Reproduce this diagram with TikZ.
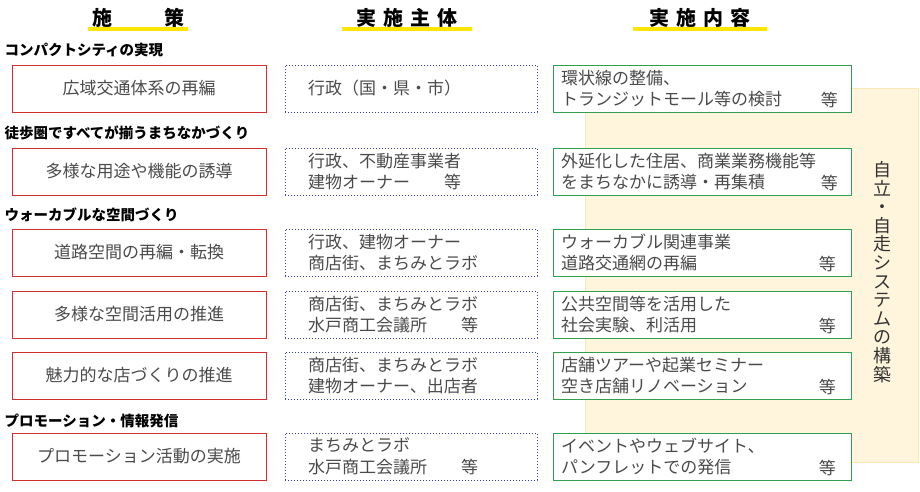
\documentclass[tikz,border=0pt]{standalone}
\usepackage{fontspec}
\setmainfont{Noto Sans CJK JP}
\usetikzlibrary{positioning}
\definecolor{txtgray}{HTML}{4A4A4A}
\definecolor{polred}{HTML}{D03030}
\definecolor{actblue}{HTML}{3040C0}
\definecolor{contgreen}{HTML}{30A050}
\definecolor{panel}{HTML}{FFF5DC}
\definecolor{panelline}{HTML}{FBE7B0}
\definecolor{hdryellow}{HTML}{FFE600}
\begin{document}
\begin{tikzpicture}
    [
    x=1pt, y=-1pt,
    basic/.style={text=txtgray, font=\fontsize{17}{21.5}\selectfont},
    pol/.style={basic, draw=polred, line width=1pt, minimum width=254pt, minimum height=47pt, inner sep=0pt},
    act/.style={basic, draw=actblue, dotted, line width=1pt, minimum width=252pt, minimum height=47pt, inner sep=0pt},
    cont/.style={draw=contgreen, line width=1pt, minimum width=298pt, minimum height=47pt, inner sep=0pt},
    txt/.style={basic, align=left, anchor=west},
    etc/.style={basic, anchor=east},
    hdr/.style={font=\fontsize{20}{22}\selectfont\bfseries},
    sec/.style={anchor=west, font=\fontsize{14.5}{16}\selectfont\bfseries}
    ]
    \useasboundingbox (0,0) rectangle (920,491);

    % Fond du panneau
    \node [fill=panel, draw=panelline, line width=1pt, minimum width=333pt, minimum height=374pt,
           inner sep=0pt] (panel) at (751.5,275) {};
    \node [font=\fontsize{18}{18.6}\selectfont, align=center, text=black!80] (vert) at (882,272)
        {自\\立\\・\\自\\走\\シ\\ス\\テ\\ム\\の\\構\\築};

    % Titres
    \fill [hdryellow] (88,27) rectangle (188,31);
    \fill [hdryellow] (342,27) rectangle (472,31);
    \fill [hdryellow] (633,27) rectangle (767,31);
    \node [hdr] (h1) at (138,18) {施\hspace{2.6em}策};
    \node [hdr] (h2) at (407,18) {実\hspace{0.35em}施\hspace{0.35em}主\hspace{0.35em}体};
    \node [hdr] (h3) at (700,18) {実\hspace{0.35em}施\hspace{0.35em}内\hspace{0.35em}容};

    % Sections
    \node [sec] (s1) at (1,50) {コンパクトシティの実現};
    \node [sec] (s2) at (1,133) {徒歩圏ですべてが揃うまちなかづくり};
    \node [sec] (s3) at (1,215) {ウォーカブルな空間づくり};
    \node [sec] (s4) at (1,421) {プロモーション・情報発信};

    %施策
    \node [pol] (p1) at (139,88.5) {広域交通体系の再編};
    \node [pol] (p2) at (139,171.5) {多様な用途や機能の誘導};
    \node [pol] (p3) at (139,252.5) {道路空間の再編・転換};
    \node [pol] (p4) at (139,314.5) {多様な空間活用の推進};
    \node [pol] (p5) at (139,375.5) {魅力的な店づくりの推進};
    \node [pol] (p6) at (139,456.5) {プロモーション活動の実施};

    % 実施主体
    \node [act] (a1) at (411,88.5) {};
    \node [act] (a2) at (411,171.5) {};
    \node [act] (a3) at (411,252.5) {};
    \node [act] (a4) at (411,314.5) {};
    \node [act] (a5) at (411,375.5) {};
    \node [act] (a6) at (411,456.5) {};
    \node [txt, right=20pt of a1.west] (ta1) {行政（国・県・市）};
    \node [txt, right=20pt of a2.west] (ta2) {行政、不動産事業者\\建物オーナー\hspace{2em}等};
    \node [txt, right=20pt of a3.west] (ta3) {行政、建物オーナー\\商店街、まちみとラボ};
    \node [txt, right=20pt of a4.west] (ta4) {商店街、まちみとラボ\\水戸商工会議所\hspace{2em}等};
    \node [txt, right=20pt of a5.west] (ta5) {商店街、まちみとラボ\\建物オーナー、出店者};
    \node [txt, right=20pt of a6.west] (ta6) {まちみとラボ\\水戸商工会議所\hspace{2em}等};

    % 実施内容
    \node [cont, fill=white] (c1) at (702,88.5) {};
    \node [cont, fill=white] (c2) at (702,171.5) {};
    \node [cont, fill=white] (c3) at (702,252.5) {};
    \node [cont, fill=white] (c4) at (702,314.5) {};
    \node [cont, fill=white] (c5) at (702,375.5) {};
    \node [cont, fill=white] (c6) at (702,456.5) {};
    \node [txt, right=5pt of c1.west] (tc1) {環状線の整備、\\トランジットモール等の検討};
    \node [txt, right=5pt of c2.west] (tc2) {外延化した住居、商業業務機能等\\をまちなかに誘導・再集積};
    \node [txt, right=5pt of c3.west] (tc3) {ウォーカブル関連事業\\道路交通網の再編};
    \node [txt, right=5pt of c4.west] (tc4) {公共空間等を活用した\\社会実験、利活用};
    \node [txt, right=5pt of c5.west] (tc5) {店舗ツアーや起業セミナー\\空き店舗リノベーション};
    \node [txt, right=5pt of c6.west] (tc6) {イベントやウェブサイト、\\パンフレットでの発信};
    \node [etc] (e1) at ([xshift=-10pt,yshift=-11pt]c1.east) {等};
    \node [etc] (e2) at ([xshift=-10pt,yshift=-11pt]c2.east) {等};
    \node [etc] (e3) at ([xshift=-12pt,yshift=-11pt]c3.east) {等};
    \node [etc] (e4) at ([xshift=-12pt,yshift=-11pt]c4.east) {等};
    \node [etc] (e5) at ([xshift=-12pt,yshift=-11pt]c5.east) {等};
    \node [etc] (e6) at ([xshift=-12pt,yshift=-11pt]c6.east) {等};
\end{tikzpicture}
\end{document}
